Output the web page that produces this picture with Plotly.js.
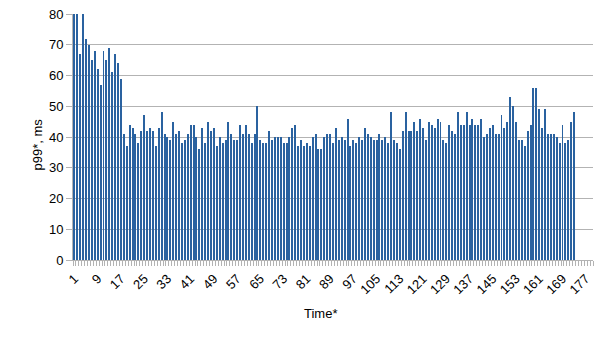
<!DOCTYPE html>
<html>
<head>
<meta charset="utf-8">
<script src="https://cdn.plot.ly/plotly-3.0.1.min.js"></script>
<style>
  html, body { margin: 0; padding: 0; background: #ffffff; }
  #chart { width: 605px; height: 340px; }
</style>
</head>
<body>
<div id="chart"></div>
<script>
// p99 latency per time step (ms)
const p99Values = [
  80, 80, 67, 80, 72, 70, 65, 68, 62, 57, 68, 65, 69, 61, 67, 64, 59,
  41, 37, 44, 43, 41, 38, 42, 47, 42, 43, 42, 37, 43,
  48, 41, 40, 39, 45, 41, 42, 38, 39, 41, 44, 44, 40, 36, 43, 38, 45, 42, 43, 37, 40, 38, 39, 45, 41, 39, 39, 44, 41,
  44, 41, 38, 41, 50, 39, 38, 38, 42, 39, 40, 40, 40, 38, 38, 40, 43, 44, 37, 39, 37, 38, 37, 40, 41, 36, 36, 40, 41, 41,
  38, 43, 39, 40, 39, 46, 37, 39, 38, 40, 39, 43, 41, 40, 39, 39, 41, 39, 40, 38, 48, 39, 38, 36, 42, 48, 42, 42, 45, 42, 46, 43, 39, 45, 44, 43, 46, 45,
  39, 38, 44, 42, 41, 48, 44, 44, 48, 44, 46, 44, 44, 46, 40, 41, 43, 44, 41, 41, 47, 43, 45, 53, 50, 45, 39, 39, 37, 42, 44, 56, 56, 49, 43, 49, 41, 41, 41, 40, 38, 44, 38, 39, 45, 48
];
// time step index (category number) for each value
const timeSteps = p99Values.map((v, i) => i + 1);

const xTickVals = [1, 9, 17, 25, 33, 41, 49, 57, 65, 73, 81, 89, 97, 105, 113, 121, 129, 137, 145, 153, 161, 169, 177];
const xTickText = ["1", "9", "17", "25", "33", "41", "49", "57", "65", "73", "81", "89", "97", "105", "113", "121", "129", "137", "145", "153", "161", "169", "177"];
const yTickVals = [0, 10, 20, 30, 40, 50, 60, 70, 80];
const yTickText = ["0", "10", "20", "30", "40", "50", "60", "70", "80"];

const xTitle = "Time*";
const yTitle = "p99*, ms";

const FONT = "Liberation Sans, Arial, sans-serif";
const GRID = "#b3b3b3";

const trace = {
  type: "bar",
  x: timeSteps,
  y: p99Values,
  width: 0.68,
  marker: { color: "#2a62a0", line: { width: 0 } },
  hoverinfo: "x+y"
};

const layout = {
  width: 605,
  height: 340,
  margin: { l: 73, r: 12, t: 14, b: 80, pad: 0 },
  paper_bgcolor: "#ffffff",
  plot_bgcolor: "#ffffff",
  showlegend: false,
  font: { family: FONT, size: 13, color: "#000000" },
  bargap: 0,
  xaxis: {
    type: "linear",
    range: [0.5, 179.5],
    tickmode: "array",
    tickvals: xTickVals,
    ticktext: xTickText,
    tickangle: -45,
    ticks: "outside",
    ticklen: 5,
    tickcolor: "rgba(0,0,0,0)",
    minor: { tickmode: "linear", tick0: 0.5, dtick: 1, ticks: "outside", ticklen: 5, tickcolor: GRID, tickwidth: 1, showgrid: false },
    showgrid: false,
    zeroline: false,
    showline: true,
    linecolor: GRID,
    linewidth: 1,
    tickfont: { family: FONT, size: 13, color: "#000000" },
    fixedrange: true
  },
  yaxis: {
    range: [0, 80],
    tickmode: "array",
    tickvals: yTickVals,
    ticktext: yTickText,
    ticks: "outside",
    ticklen: 6,
    tickcolor: GRID,
    showgrid: true,
    gridcolor: GRID,
    gridwidth: 1,
    zeroline: false,
    showline: true,
    linecolor: GRID,
    linewidth: 1,
    tickfont: { family: FONT, size: 13, color: "#000000" },
    fixedrange: true
  },
  annotations: [
    {
      text: xTitle, xref: "paper", yref: "paper",
      x: 0.475, y: -0.217, xanchor: "center", yanchor: "middle",
      showarrow: false, font: { family: FONT, size: 13, color: "#000000" }
    },
    {
      text: yTitle, xref: "paper", yref: "paper",
      x: -0.069, y: 0.47, xanchor: "center", yanchor: "middle", textangle: -90,
      showarrow: false, font: { family: FONT, size: 13, color: "#000000" }
    }
  ]
};

Plotly.newPlot("chart", [trace], layout, { displayModeBar: false, staticPlot: true });
</script>
</body>
</html>
